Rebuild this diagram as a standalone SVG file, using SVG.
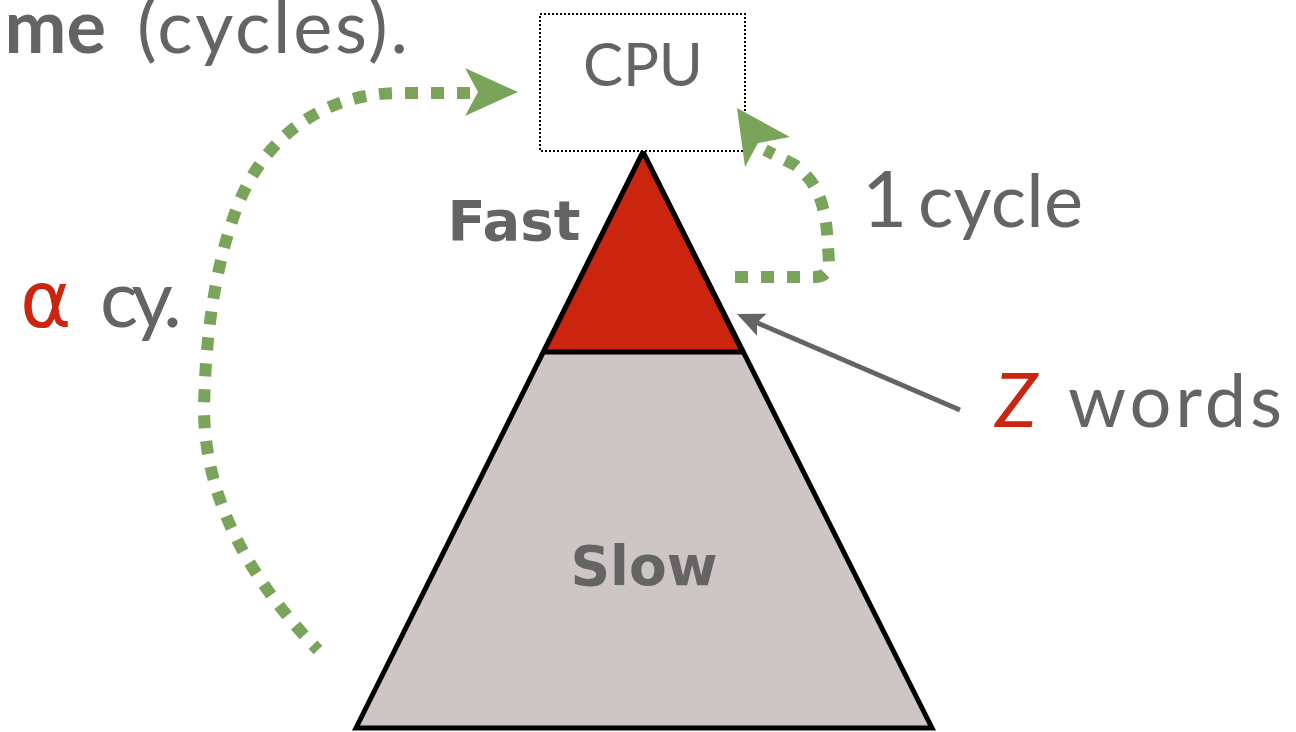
<svg xmlns="http://www.w3.org/2000/svg" width="1296" height="732" viewBox="0 0 1296 732">
<style>
.t{font-family:Lato,"Open Sans","DejaVu Sans",sans-serif;fill:#646464}
.b{font-family:"DejaVu Sans","Open Sans",sans-serif;font-weight:bold;fill:#646464}
.r{fill:#CB2510}
.g{fill:none;stroke:#79A45A;stroke-width:12;stroke-dasharray:13 13;stroke-linecap:butt}
.ga{fill:#79A45A}
</style>
<rect width="1296" height="732" fill="#fff"/>
<g id="title">
<text class="t" x="106" y="53" font-size="74" font-weight="bold" text-anchor="end">me</text>
<text class="t" x="137" y="53" font-size="74" textLength="271">(cycles).</text>
</g>
<g id="pyramid">
<polygon points="643,152 932,728 356,728" fill="#CEC6C4" stroke="#000" stroke-width="5" stroke-linejoin="miter"/>
<polygon points="643,152 742.5,352 543.5,352" fill="#CB2510" stroke="#000" stroke-width="5" stroke-linejoin="miter"/>
<text class="b" x="644" y="585" font-size="55" text-anchor="middle">Slow</text>
</g>
<g id="fast">
<text class="b" x="514" y="240" font-size="56" text-anchor="middle">Fast</text>
</g>
<g id="cpu">
<rect x="540" y="14" width="205" height="137" fill="#fff" stroke="#000" stroke-width="2" stroke-dasharray="2 2"/>
<text class="t" x="643" y="86" font-size="60" text-anchor="middle" textLength="120">CPU</text>
</g>
<g id="alpha">
<text class="r" x="20" y="327" font-family="'DejaVu Sans',sans-serif" font-size="78">α</text>
<text class="t" x="100" y="327" font-size="80" textLength="82">cy.</text>
</g>
<g id="onecycle">
<text class="t" x="862" y="227" font-size="78">1</text>
<text class="t" x="918" y="227" font-size="74" textLength="165">cycle</text>
</g>
<g id="zwords">
<text class="t r" x="995" y="427" font-size="76" font-style="italic">Z</text>
<text class="t" x="1068" y="427" font-size="74" textLength="214">words</text>
</g>
<g id="connectors">
<path class="g" d="M470,93 L400,93 C330,93 270,130 240,200 C215,260 205,340 204,410 C205,500 250,580 318,650"/>
<polygon class="ga" points="518,92 465,68 478,92 465,116"/>
<path class="g" d="M735,277 L815,277 Q829,277 829,262 L827,232 C824,200 815,180 795,165 L765,150"/>
<polygon class="ga" points="737,108 790,137 758,143 745,167"/>
<line x1="960" y1="410" x2="757" y2="322.7" stroke="#646464" stroke-width="5"/>
<polygon points="737,314 766.5,313.7 757,322.7 757,335.7" fill="#646464"/>
</g>
</svg>
